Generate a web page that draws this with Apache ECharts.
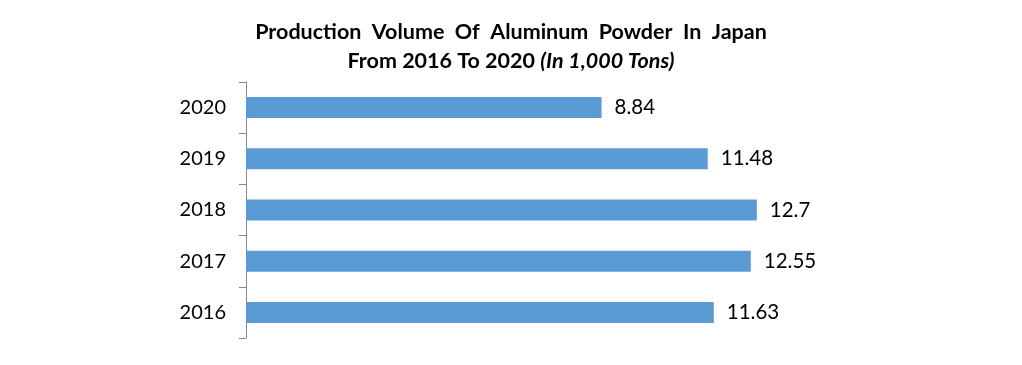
<!DOCTYPE html>
<html><head><meta charset="utf-8">
<script src="https://cdn.jsdelivr.net/npm/echarts@6/dist/echarts.min.js"></script>
<style>html,body{margin:0;padding:0;background:#fff}#c{width:1022px;height:365px}</style>
</head><body><div id="c"></div>
<script>
const categories = ['2016', '2017', '2018', '2019', '2020'];
const values = [11.63, 12.55, 12.7, 11.48, 8.84];
const titleLine1 = 'Production  Volume  Of  Aluminum  Powder  In  Japan';
const titleLine2a = 'From 2016 To 2020 ';
const titleLine2b = '(In 1,000 Tons)';

const chart = echarts.init(document.getElementById('c'));
const FONT = 'Lato, "Open Sans", sans-serif';
chart.setOption({
  backgroundColor: '#fff',
  animation: false,
  title: {
    left: 'center', top: 13,
    text: '{b|' + titleLine1 + '}\n{b|' + titleLine2a + '}{i|' + titleLine2b + '}',
    textStyle: {
      rich: {
        b: { fontFamily: FONT, fontWeight: 'bold', fontSize: 21.5, color: '#000', lineHeight: 29 },
        i: { fontFamily: FONT, fontWeight: 'bold', fontStyle: 'italic', fontSize: 21.5, color: '#000', lineHeight: 29 }
      }
    }
  },
  grid: { left: 246, right: 52, top: 82, bottom: 27, containLabel: false },
  xAxis: { type: 'value', min: 0, max: 18, show: false },
  yAxis: {
    type: 'category', data: categories,
    axisLine: { show: true, lineStyle: { color: '#868686', width: 1 } },
    axisTick: { show: true, length: 7, lineStyle: { color: '#868686' } },
    axisLabel: { margin: 20, fontFamily: FONT, fontSize: 20, color: '#000' },
    splitLine: { show: false }
  },
  series: [{
    type: 'bar', data: values, barWidth: 21,
    itemStyle: { color: '#5b9bd5' },
    label: { show: true, position: 'right', distance: 13, fontFamily: FONT, fontSize: 20.5, color: '#000' }
  }]
});
</script></body></html>
